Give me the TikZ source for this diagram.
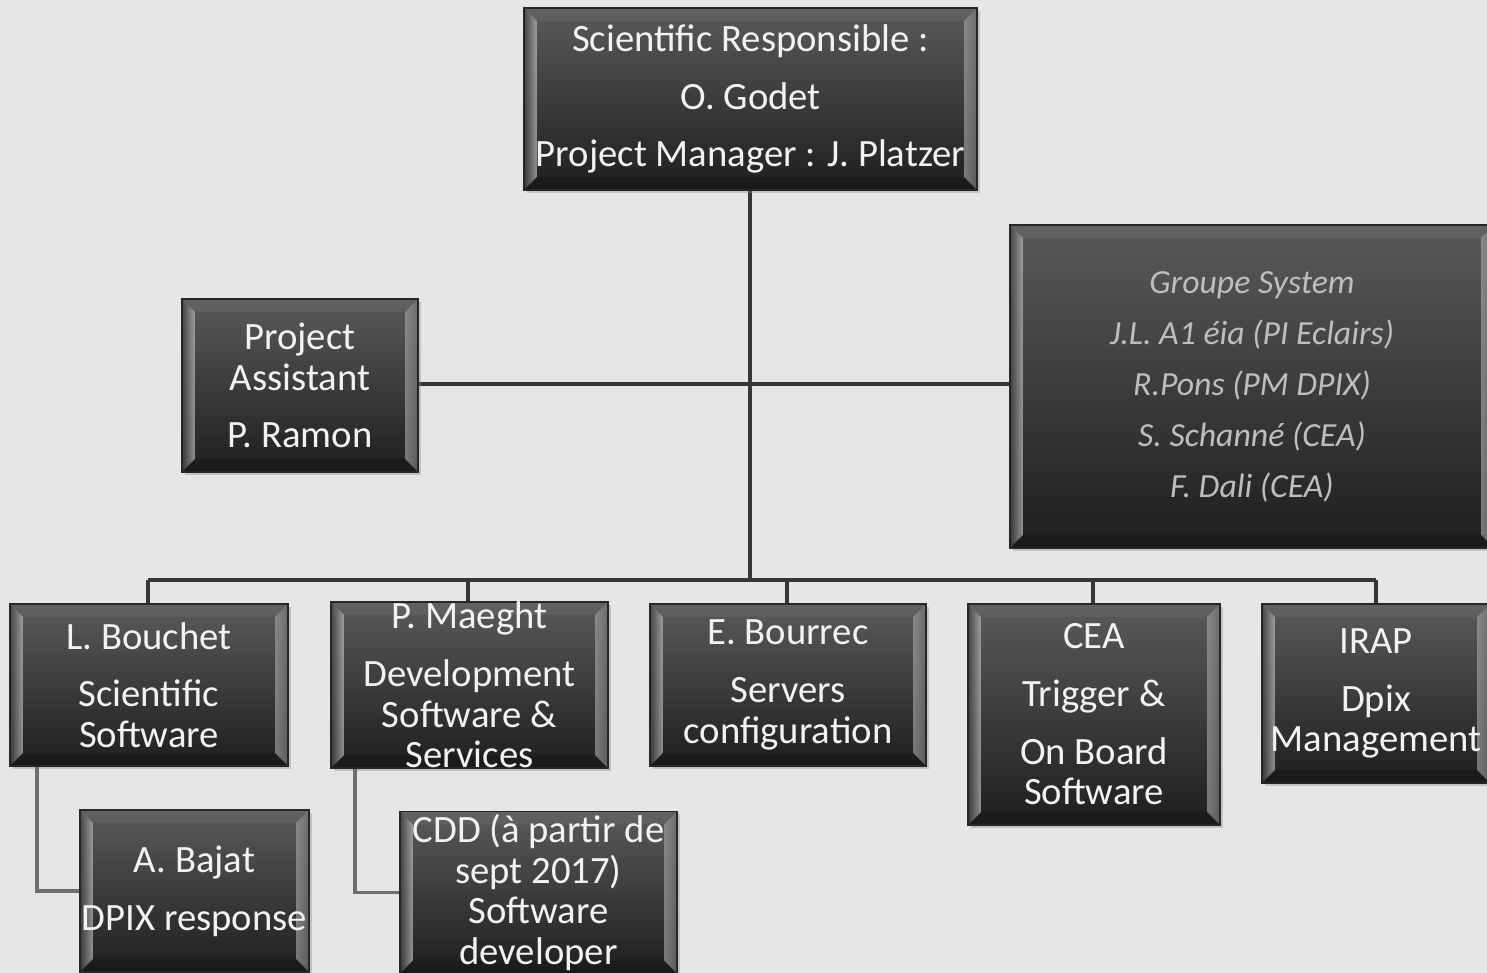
\documentclass[tikz,border=0pt]{standalone}
\usepackage{fontspec}
\setmainfont{Carlito}
\usetikzlibrary{shadows}

\definecolor{bgcol}{HTML}{E6E6E6}
\definecolor{boxtop}{HTML}{5A5A5A}
\definecolor{boxbot}{HTML}{1E1E1E}
\definecolor{linkcol}{HTML}{363636}
\definecolor{subcol}{HTML}{6E6E6E}
\definecolor{txtcol}{HTML}{F2F2F2}
\definecolor{grpcol}{HTML}{BEBEBE}

% gap between the blocks of text in a box
\newcommand{\orggap}{\\[4.8pt]}

\tikzset{
  bevel/.style={path picture={
    \coordinate (bsw) at (path picture bounding box.south west);
    \coordinate (bne) at (path picture bounding box.north east);
    \coordinate (bnw) at (bsw|-bne);
    \coordinate (bse) at (bne|-bsw);
    % left and right edges
    \shade[left color=black!75, right color=white!72!black, opacity=.75]
      (bsw) -- (bnw) -- ([shift={(0.13cm,-0.13cm)}]bnw) -- ([shift={(0.13cm,0.13cm)}]bsw) -- cycle;
    \shade[left color=white!62!black, right color=black!55, opacity=.7]
      (bse) -- (bne) -- ([shift={(-0.13cm,-0.13cm)}]bne) -- ([shift={(-0.13cm,0.13cm)}]bse) -- cycle;
    % top and bottom edges
    \fill[white, opacity=.05]
      (bnw) -- (bne) -- ([shift={(-0.13cm,-0.13cm)}]bne) -- ([shift={(0.13cm,-0.13cm)}]bnw) -- cycle;
    \fill[black, opacity=.15]
      (bsw) -- (bse) -- ([shift={(-0.13cm,0.13cm)}]bse) -- ([shift={(0.13cm,0.13cm)}]bsw) -- cycle;
  }},
  orgbox/.style={rectangle, draw=black!85, line width=0.4pt,
    top color=boxtop, bottom color=boxbot,
    drop shadow={shadow xshift=0.8pt, shadow yshift=-0.8pt, opacity=0.35},
    bevel, text=txtcol, align=center, inner sep=0pt,
    font=\fontsize{11}{11.6}\selectfont},
  linkline/.style={line width=1.1pt, draw=linkcol},
  sublink/.style={line width=1.1pt, draw=subcol},
}

\begin{document}
\begin{tikzpicture}[x=0.01cm, y=-0.01cm]

% Page
\fill[bgcol] (0,0) rectangle (1487,973);
\useasboundingbox (0,0) rectangle (1487,973);
\clip (0,0) rectangle (1487,973);

% Connectors
\coordinate (bus) at (750,580);
\draw[linkline] (750,190) -- (bus);
\draw[linkline] (418,384) -- (1010,384);
\draw[linkline] (148,580) -- (1376,580);
\foreach \x in {148,468,787,1093,1376}
  \draw[linkline] (\x,580) -- (\x,604);

% Head of the project
\node[orgbox, minimum width=4.53cm, minimum height=1.82cm] (head) at (750.5,99)
  {Scientific Responsible :\orggap O. Godet\orggap Project Manager : J. Platzer};

% Assistant and system group
\node[orgbox, minimum width=2.36cm, minimum height=1.73cm] (assist) at (300,385.5)
  {Project\\ Assistant\orggap P. Ramon};
\node[orgbox, minimum width=4.84cm, minimum height=3.23cm, text=grpcol,
  font=\itshape\fontsize{9.6}{14.5}\selectfont] (groupe) at (1252,386.5)
  {Groupe System\\ J.L. A1 éia (PI Eclairs)\\ R.Pons (PM DPIX)\\ S. Schanné (CEA)\\ F. Dali (CEA)};

% Teams
\node[orgbox, minimum width=2.78cm, minimum height=1.62cm] (bouchet) at (149,685)
  {L. Bouchet\orggap Scientific\\ Software};
\node[orgbox, minimum width=2.77cm, minimum height=1.62cm] (maeght) at (469.5,685)
  {P. Maeght\orggap Development\\ Software \&\\ Services};
\node[orgbox, minimum width=2.76cm, minimum height=1.62cm] (bourrec) at (788,685)
  {E. Bourrec\orggap Servers\\ configuration};
\node[orgbox, minimum width=2.52cm, minimum height=2.21cm] (cea) at (1094,714.5)
  {CEA\orggap Trigger \&\orggap On Board\\ Software};
\node[orgbox, minimum width=2.28cm, minimum height=1.79cm] (irap) at (1376,693.5)
  {IRAP\orggap Dpix\\ Management};

% Second level
\node[orgbox, minimum width=2.29cm, minimum height=1.62cm] (bajat) at (194.5,891)
  {A. Bajat\orggap DPIX response};
\node[orgbox, minimum width=2.77cm, minimum height=1.62cm] (cdd) at (538.5,892.5)
  {CDD (à partir de\\ sept 2017)\\ Software\\ developer};

\draw[sublink] ([xshift=0.28cm]bouchet.south west) |- (bajat.west);
\draw[sublink] ([xshift=0.25cm]maeght.south west) |- (cdd.west);

\end{tikzpicture}
\end{document}
